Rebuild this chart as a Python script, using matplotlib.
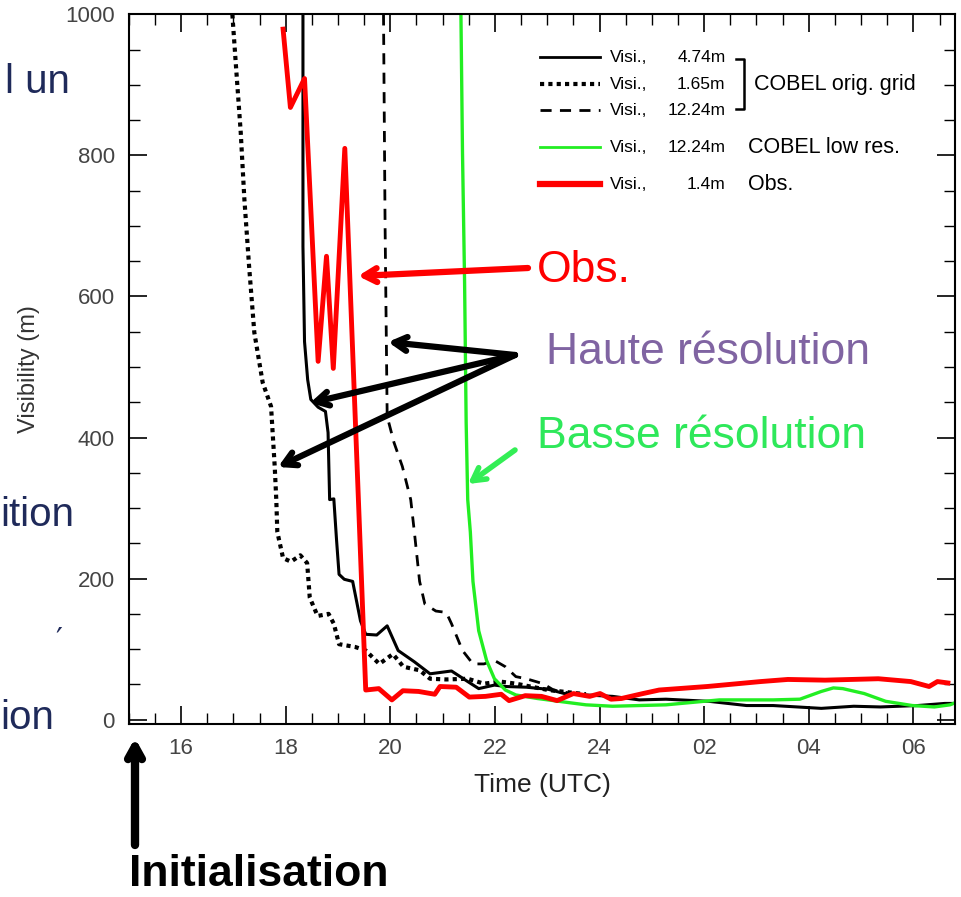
import matplotlib
matplotlib.use("Agg")
import matplotlib.pyplot as plt
from matplotlib.ticker import MultipleLocator, FixedLocator

# hours since 00 UTC of day 1 (values above 24 are the next morning)
obs_t = [17.95, 18.09, 18.36, 18.62, 18.78, 18.91, 19.13, 19.39, 19.53, 19.78, 20.03, 20.24,
         20.54, 20.85, 20.95, 21.26, 21.51, 21.82, 22.12, 22.27, 22.58, 22.89, 23.19, 23.5,
         23.81, 24.01, 24.22, 24.42, 24.83, 25.14, 26.06, 27.08, 27.6, 28.31, 28.82, 29.33,
         29.95, 30.3, 30.46, 30.66]
obs_v = [979, 868, 909, 508, 657, 498, 810, 312, 42, 44, 28, 41,
         40, 36, 47, 46, 32, 33, 36, 27, 34, 33, 27, 37,
         33, 37, 29, 30, 37, 42, 47, 54, 57, 56, 57, 58,
         54, 47, 54, 52]

hr1_t = [18.33, 18.33, 18.36, 18.42, 18.48, 18.62, 18.76, 18.81, 18.84, 18.92, 18.97, 19.02,
         19.12, 19.28, 19.43, 19.53, 19.74, 19.94, 20.15, 20.46, 20.76, 21.17, 21.48, 21.69,
         21.99, 22.2, 22.6, 23.02, 23.33, 23.74, 24.25, 24.76, 25.27, 26.09, 26.81, 27.32,
         28.24, 28.86, 29.37, 30.08, 30.6, 30.9]
hr1_v = [1000, 671, 536, 482, 454, 443, 437, 407, 312, 313, 257, 206,
         199, 196, 140, 121, 120, 133, 98, 82, 65, 69, 54, 44,
         49, 47, 46, 43, 37, 35, 33, 28, 29, 26, 20, 20,
         16, 19, 18, 20, 23, 23]

hr2_t = [16.98, 17.05, 17.14, 17.21, 17.3, 17.4, 17.56, 17.72, 17.79, 17.82, 17.84, 17.95,
         18.1, 18.28, 18.41, 18.46, 18.61, 18.82, 18.92, 19.02, 19.33, 19.53, 19.79, 20.05,
         20.25, 20.56, 20.76, 21.07, 21.48, 21.79, 22.1, 22.4, 23.02, 23.74]
hr2_v = [1000, 926, 833, 738, 643, 549, 478, 444, 359, 312, 266, 229,
         224, 233, 222, 173, 147, 150, 136, 107, 103, 98, 79, 93,
         75, 70, 58, 57, 58, 51, 54, 51, 42, 36]

hr3_t = [19.87, 19.9, 19.94, 20.07, 20.23, 20.39, 20.46, 20.56, 20.66, 20.87, 21.07, 21.17,
         21.38, 21.58, 21.79, 21.99, 22.2, 22.4, 22.6, 22.92, 23.12, 23.4]
hr3_v = [1000, 700, 430, 393, 359, 312, 266, 196, 164, 154, 152, 136,
         98, 79, 79, 84, 75, 61, 58, 51, 42, 38]

lr_t = [21.35, 21.38, 21.42, 21.45, 21.48, 21.53, 21.58, 21.69, 21.84, 21.99, 22.2, 22.4,
        22.81, 23.22, 23.74, 24.25, 25.27, 26.29, 27.32, 27.83, 28.24, 28.47, 28.65, 29.06,
        29.47, 29.98, 30.4, 30.7, 30.8]
lr_v = [1000, 804, 620, 421, 312, 266, 196, 126, 84, 58, 42, 35,
        30, 26, 21, 19, 21, 28, 28, 29, 40, 45, 44, 37,
        26, 20, 18, 21, 24]

x_major = [16, 18, 20, 22, 24, 26, 28, 30]
x_labels = ["16", "18", "20", "22", "24", "02", "04", "06"]
y_major = [0, 200, 400, 600, 800, 1000]

legend_styles = [("-", "black", 2.0), (":", "black", 3.0), ("--", "black", 2.0),
                 ("-", "#22ee22", 2.0), ("-", "red", 4.5)]
legend_vals = ["4.74m", "1.65m", "12.24m", "12.24m", "1.4m"]
legend_rows_px = [58, 85, 111, 148, 185]

sans = ["Liberation Sans", "DejaVu Sans"]

fig = plt.figure(figsize=(9.61, 8.97), dpi=100)
ax = fig.add_axes([0.134, 0.193, 0.860, 0.791])

ax.plot(hr2_t, hr2_v, color="black", linestyle=(0, (1, 1)), linewidth=3.0)
ax.plot(hr3_t, hr3_v, color="black", linestyle=(0, (4, 3)), linewidth=2.0)
ax.plot(hr1_t, hr1_v, color="black", linewidth=2.2)
ax.plot(lr_t, lr_v, color="#22ee22", linewidth=2.4)
ax.plot(obs_t, obs_v, color="red", linewidth=3.5)

ax.set_xlim(15, 30.8)
ax.set_ylim(-6, 1000)
ax.xaxis.set_major_locator(FixedLocator(x_major))
ax.set_xticklabels(x_labels)
ax.xaxis.set_minor_locator(MultipleLocator(0.5))
ax.yaxis.set_major_locator(FixedLocator(y_major))
ax.yaxis.set_minor_locator(MultipleLocator(50))
ax.tick_params(which="both", direction="in", top=True, right=True, color="black")
ax.tick_params(which="major", length=13, width=1.2, labelsize=16, labelcolor="#444444", pad=10)
ax.tick_params(which="minor", length=8, width=1.0)
for lab in ax.get_xticklabels() + ax.get_yticklabels():
    lab.set_family(sans)
for s in ax.spines.values():
    s.set_linewidth(1.5)

ax.set_xlabel("Time (UTC)", fontsize=19, family=sans, labelpad=10, color="#222222")
ax.set_ylabel("Visibility (m)", fontsize=17, family=sans, labelpad=18, color="#333333")

# legend drawn by hand (bracketed group label)
def axy(py):
    return (724 - py) / 709.0


for (ls, c, lw), val, py in zip(legend_styles, legend_vals, legend_rows_px):
    y = axy(py)
    style = {":": (0, (1, 1)), "--": (0, (4, 3))}.get(ls, "-")
    ax.plot([0.498, 0.570], [y, y], transform=ax.transAxes, color=c, linestyle=style,
            linewidth=lw, clip_on=False)
    ax.text(0.582, y, "Visi.,", transform=ax.transAxes, fontsize=12.5, va="center",
            family=sans)
    ax.text(0.722, y, val, transform=ax.transAxes, fontsize=12.5, va="center", ha="right",
            family=sans)
ax.plot([0.735, 0.745, 0.745, 0.735], [axy(60), axy(60), axy(110), axy(110)],
        transform=ax.transAxes, color="black", linewidth=1.8)
ax.text(0.757, axy(85), "COBEL orig. grid", transform=ax.transAxes, fontsize=15.5,
        va="center", family=sans)
ax.text(0.749, axy(148), "COBEL low res.", transform=ax.transAxes, fontsize=15.5,
        va="center", family=sans)
ax.text(0.749, axy(185), "Obs.", transform=ax.transAxes, fontsize=15.5, va="center",
        family=sans)

# slide annotations (pixel positions converted to figure fraction)
W, H = 961.0, 897.0


def fpt(px, py):
    return (px / W, 1 - py / H)


def arrow(start, end, color, lw=4.5):
    ax.annotate("", xy=fpt(*end), xytext=fpt(*start), xycoords="figure fraction",
                textcoords="figure fraction",
                arrowprops=dict(arrowstyle="->,head_length=0.9,head_width=0.5", color=color,
                                lw=lw, shrinkA=0, shrinkB=0))


arrow((528, 268), (358, 276), "red")
arrow((515, 355), (388, 342), "black")
arrow((515, 355), (310, 403), "black")
arrow((515, 355), (278, 467), "black")
arrow((515, 450), (468, 484), "#33ee55", lw=4.0)
arrow((135, 845), (135, 738), "black", lw=6)

fig.text(*fpt(537, 270), "Obs.", color="red", fontsize=32, va="center", family=sans)
fig.text(*fpt(546, 353), "Haute résolution", color="#8064a2", fontsize=32, va="center",
         family=sans)
fig.text(*fpt(537, 436), "Basse résolution", color="#2ee85a", fontsize=32, va="center",
         family=sans)
fig.text(*fpt(129, 874), "Initialisation", color="black", fontsize=32, va="center",
         family=sans, weight="bold")

navy = "#1f2a5a"
for txt, px, py in [("l un", 70, 82), ("ition", 74, 515), ("ion", 54, 718)]:
    fig.text(*fpt(px, py), txt, color=navy, fontsize=29, va="center", ha="right",
             family=sans)
fig.text(*fpt(62, 640), "\u2032", color=navy, fontsize=22, va="center", ha="right")

fig.savefig("out.png", dpi=100)
